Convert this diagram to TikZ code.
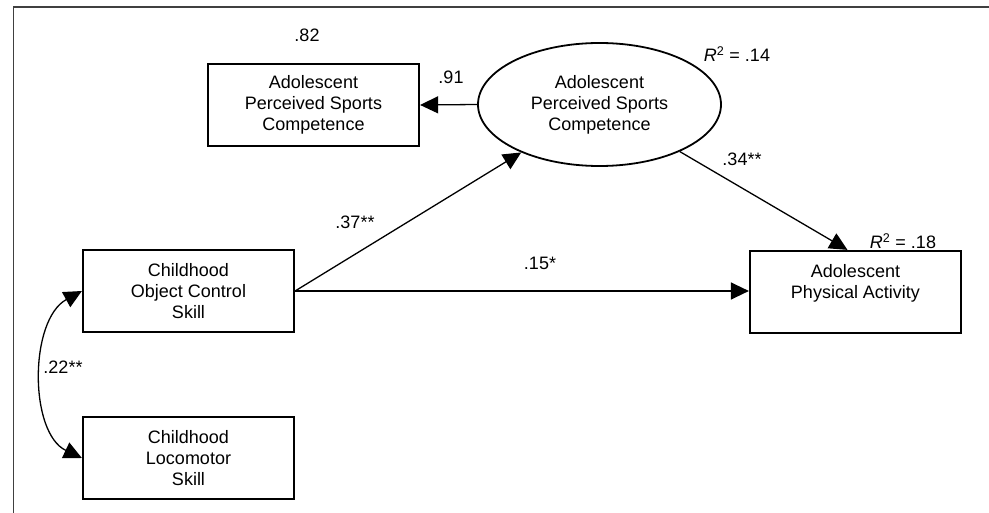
\documentclass[tikz,border=0pt]{standalone}
\usepackage{fontspec}
\setmainfont{Liberation Sans}
\usetikzlibrary{arrows.meta,shapes.geometric}
\def\rsq{\textit{R}\textsuperscript{2}}

\begin{document}
\begin{tikzpicture}[x=1pt, y=-1pt,
		txt/.style={font=\fontsize{18}{21}\selectfont},
		obsbox/.style={txt, draw, line width=2.2pt, minimum width=211pt, minimum height=82pt, align=center, inner sep=0pt},
		latent/.style={txt, draw, ellipse, line width=1.8pt, minimum width=243pt, minimum height=123pt, align=center, inner sep=0pt},
		path/.style={line width=1.3pt, -{Triangle[length=18pt, width=17pt]}},
		covpath/.style={line width=1.3pt, {Triangle[length=18pt, width=17pt]}-{Triangle[length=18pt, width=17pt]}}]
		%%%%% START %%%%%
		
		\useasboundingbox (0, 0) rectangle (989, 513);
		\draw[line width=1.2pt, color=black!75] (13.5, 513) -- (13.5, 7) -- (989, 7);
		
		\node[obsbox] (sportsbox) at (313.5, 105) {Adolescent\\Perceived Sports\\Competence};
		\node[latent] (sports) at (599.5, 104.5) {Adolescent\\Perceived Sports\\Competence};
		\node[obsbox] (object) at (188.5, 291) {Childhood\\Object Control\\Skill};
		\node[obsbox] (loco) at (188.5, 458) {Childhood\\Locomotor\\Skill};
		\node[obsbox] (activity) at (855.5, 292) {Adolescent\\Physical Activity\\~};
		
		\draw[path] (sports.west) -- (sportsbox.east);
		\draw[path] (object.east) -- (sports);
		\draw[path] (object.east) -- (object.east -| activity.west);
		\draw[path] (sports) -- ([xshift=-8pt]activity.north);
		\draw[covpath] (object.west) .. controls (29, 320) and (29, 433) .. (loco.west);
		
		\node[txt] (lsportsbox) at (307, 35) {.82};
		\node[txt] (lload) at (451, 77) {.91};
		\node[txt] (lrsports) at (737, 54) {\rsq{} = .14};
		\node[txt] (lrsact) at (903, 241) {\rsq{} = .18};
		\node[txt] (lsa) at (742, 159) {.34**};
		\node[txt] (los) at (355, 222) {.37**};
		\node[txt] (loa) at (540, 263) {.15*};
		\node[txt] (lcov) at (63, 367) {.22**};
		
		%%%%% END %%%%%
\end{tikzpicture}
\end{document}
